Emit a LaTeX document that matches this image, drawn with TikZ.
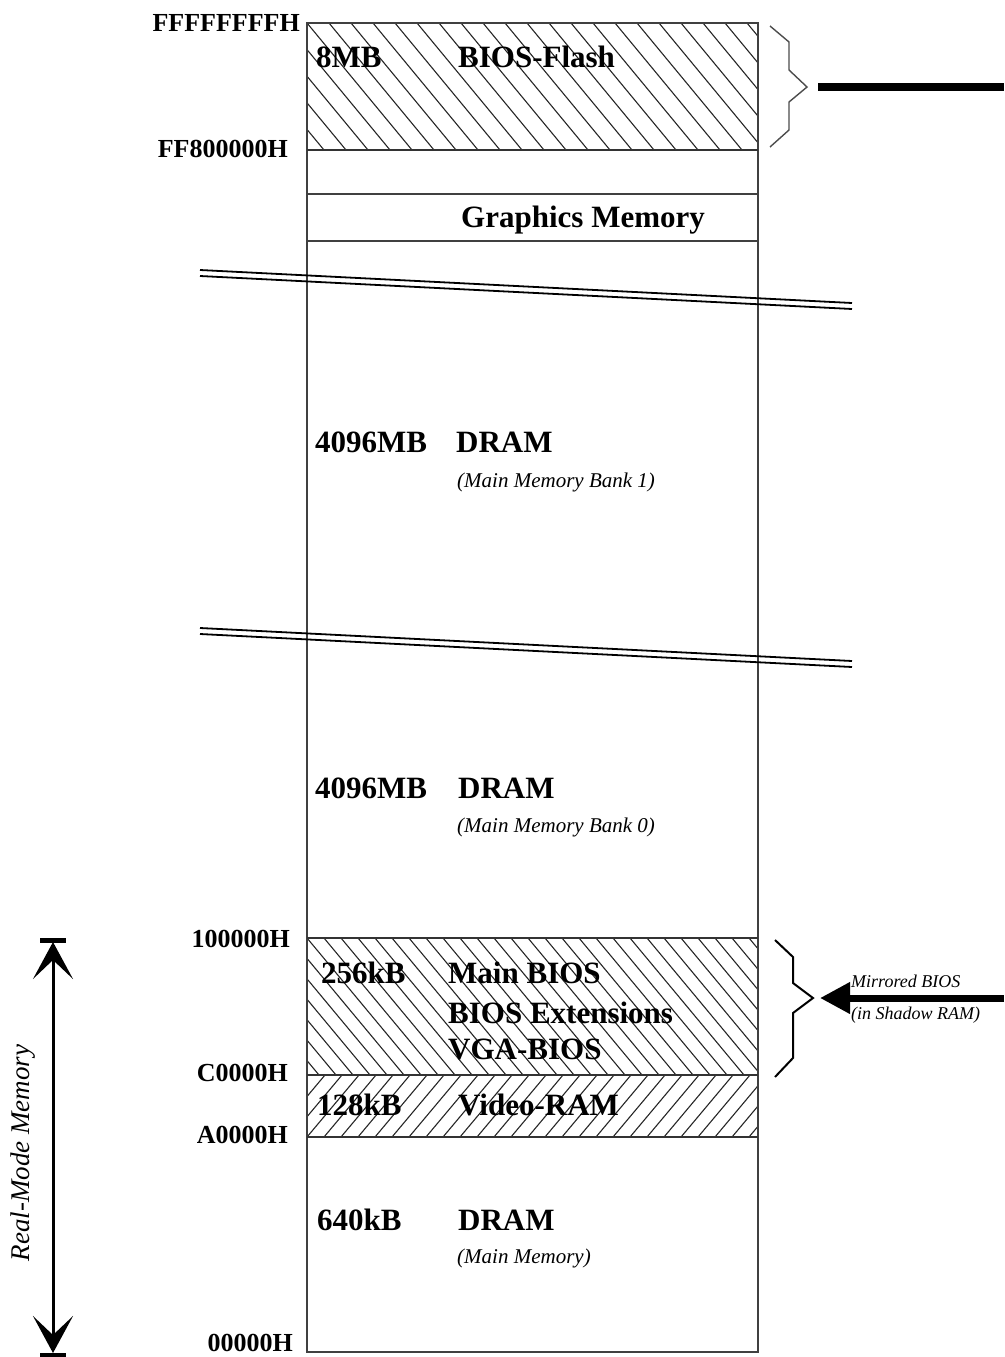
\documentclass[tikz,border=0pt]{standalone}
\usepackage{fontspec}
\setmainfont{Liberation Serif}
\usetikzlibrary{arrows.meta}
\begin{document}
\begin{tikzpicture}[x=1pt,y=-1pt,
 addr/.style={font=\fontsize{26}{28}\selectfont\bfseries, anchor=base east, inner sep=0pt},
 big/.style={font=\fontsize{31}{33}\selectfont\bfseries, anchor=base west, inner sep=0pt},
 reg/.style={font=\fontsize{31}{33}\selectfont\bfseries, anchor=base west, inner sep=0pt},
 sub/.style={font=\fontsize{21}{23}\selectfont\itshape, anchor=base west, inner sep=0pt},
 small/.style={font=\fontsize{18}{20}\selectfont\itshape, anchor=base west, inner sep=0pt},
 frame/.style={draw=black!75, line width=2pt},
 sep/.style={draw=black!80, line width=1.8pt},
 hatch/.style={line width=1.1pt, draw=black!85},
 brk/.style={line width=1.8pt},
 brace/.style={line width=1.4pt, draw=black!70, line join=miter},
 bracetwo/.style={line width=2pt, draw=black, line join=miter},
 rmtip/.tip={Stealth[length=37pt,width=40pt,inset=19pt]}]
\useasboundingbox (0,0) rectangle (1004,1357);

% ---- hatching ----
\begin{scope}
 \clip (307,23) rectangle (758,150);
 \foreach \i in {-8,...,22} \draw[hatch] ({307+\i*22},23) -- ++(105,127);
\end{scope}
\begin{scope}
 \clip (307,938) rectangle (758,1075);
 \foreach \i in {-12,...,28} \draw[hatch] ({307+\i*17},938) -- ++(114,137);
\end{scope}
\begin{scope}
 \clip (307,1075) rectangle (758,1137);
 \foreach \i in {-2,...,32} \draw[hatch] ({307+\i*17},1137) -- ++(52,-62);
\end{scope}

% ---- frame ----
\draw[frame] (307,23) rectangle (758,1352);
\draw[sep] (307,150) -- (758,150);
\draw[frame] (307,194) -- (758,194);
\draw[frame] (307,241) -- (758,241);
\draw[sep] (307,938) -- (758,938);
\draw[sep] (307,1075) -- (758,1075);
\draw[sep] (307,1137) -- (758,1137);

% ---- break lines ----
\draw[brk] (200,270) -- (852,303);
\draw[brk] (200,276) -- (852,309);
\draw[brk] (200,628) -- (852,661);
\draw[brk] (200,634) -- (852,667);

% ---- addresses ----
\node[addr] (aF) at (300,31) {FFFFFFFFH};
\node[addr] (aFF8) at (288,157) {FF800000H};
\node[addr] (a10) at (290,947) {100000H};
\node[addr] (aC) at (288,1081) {C0000H};
\node[addr] (aA) at (288,1143) {A0000H};
\node[addr] (a0) at (293,1351) {00000H};

% ---- region texts ----
\node[reg] (s8) at (316,67) {8MB};
\node[reg] (tflash) at (458,67) {BIOS-Flash};
\node[big] (tgfx) at (461,227) {Graphics Memory};
\node[big] (s4a) at (315,452) {4096MB};
\node[big] (tda) at (456,452) {DRAM};
\node[sub] (ma) at (457,487) {(Main Memory Bank 1)};
\node[big] (s4b) at (315,798) {4096MB};
\node[big] (tdb) at (458,798) {DRAM};
\node[sub] (mb) at (457,832) {(Main Memory Bank 0)};
\node[reg] (s256) at (321,983) {256kB};
\node[reg] (tmb) at (448,983) {Main BIOS};
\node[reg] (tbe) at (448,1023) {BIOS Extensions};
\node[reg] (tvga) at (448,1059) {VGA-BIOS};
\node[reg] (s128) at (317,1115) {128kB};
\node[reg] (tvr) at (458,1115) {Video-RAM};
\node[big] (s640) at (317,1230) {640kB};
\node[big] (tdc) at (458,1230) {DRAM};
\node[sub] (mc) at (457,1263) {(Main Memory)};

% ---- braces ----
\draw[brace] (770,26) -- (789,42) -- (789,70) -- (807,87) -- (789,102) -- (789,130) -- (770,147);
\coordinate (topend) at (1004,87);
\coordinate (toptip) at (818,87);
\draw[line width=8pt] (toptip) -- (topend);

\draw[bracetwo] (775,940) -- (793,957) -- (793,983) -- (813,998) -- (793,1013) -- (793,1058) -- (775,1077);
\coordinate (mstart) at (1004,998);
\coordinate (mtip) at (820,998);
\draw[line width=7pt, -{Triangle[length=30pt,width=30pt]}] (mstart) -- (mtip);
\node[small] (mir1) at (851,987) {Mirrored BIOS};
\node[small] (mir2) at (851,1019) {(in Shadow RAM)};

% ---- real-mode arrow ----
\coordinate (rtop) at (53,942);
\coordinate (rbot) at (53,1353);
\draw[line width=5pt] (40,940) -- (66,940);
\draw[line width=5pt] (40,1355) -- (66,1355);
\draw[line width=3pt, {rmtip}-{rmtip}] (rtop) -- (rbot);
\node[font=\fontsize{27}{29}\selectfont\itshape, rotate=90, inner sep=0pt] (rm) at (23,1153) {Real-Mode Memory};
\end{tikzpicture}
\end{document}
